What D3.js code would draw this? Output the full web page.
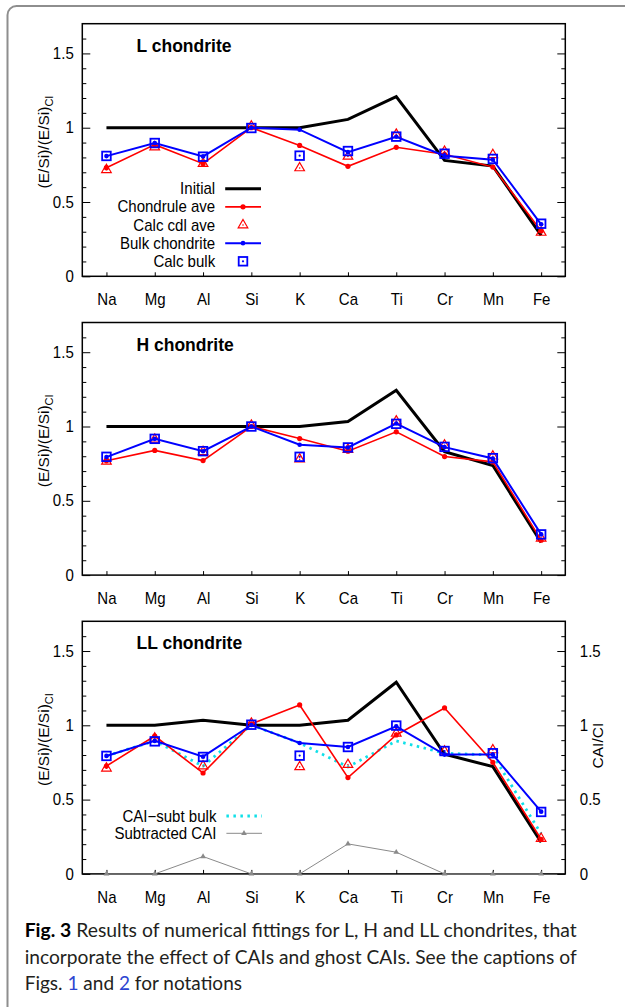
<!DOCTYPE html>
<html>
<head>
<meta charset="utf-8">
<script src="https://cdn.jsdelivr.net/npm/d3@7"></script>
<style>
  body { margin: 0; background: #fff; }
  svg { display: block; }
  .chart text { font-family: "Liberation Sans", Arial, Helvetica, sans-serif; fill: #000; }
  .caption text { font-family: Lato, "Open Sans", sans-serif; }
</style>
</head>
<body>
<svg id="fig" width="625" height="1007"></svg>
<script>
// Element order along the x axis
const elements = ["Na", "Mg", "Al", "Si", "K", "Ca", "Ti", "Cr", "Mn", "Fe"];
const yMajorTicks = [0, 0.5, 1, 1.5];
const yMinorTicks = [0.1, 0.2, 0.3, 0.4, 0.6, 0.7, 0.8, 0.9, 1.1, 1.2, 1.3, 1.4, 1.6];

// L chondrite: (E/Si)/(E/Si)_CI
const lInitial       = [1.0, 1.0, 1.0, 1.0, 1.0, 1.056, 1.209, 0.780, 0.742, 0.275];
const lChondruleAve  = [0.731, 0.886, 0.758, 1.0, 0.881, 0.740, 0.868, 0.821, 0.735, 0.305];
const lCalcCdlAve    = [0.717, 0.870, 0.758, 1.010, 0.729, 0.807, 0.955, 0.840, 0.818, 0.295];
const lBulk          = [0.809, 0.897, 0.807, 1.0, 0.987, 0.836, 0.939, 0.812, 0.785, 0.350];
const lCalcBulk      = [0.810, 0.897, 0.805, 0.998, 0.812, 0.843, 0.940, 0.825, 0.790, 0.354];

// H chondrite
const hInitial       = [1.0, 1.0, 1.0, 1.0, 1.0, 1.034, 1.244, 0.830, 0.738, 0.220];
const hChondruleAve  = [0.769, 0.839, 0.771, 1.0, 0.919, 0.834, 0.964, 0.798, 0.762, 0.235];
const hCalcCdlAve    = [0.765, 0.913, 0.830, 1.007, 0.780, 0.845, 1.036, 0.874, 0.800, 0.247];
const hBulk          = [0.794, 0.917, 0.834, 1.0, 0.877, 0.859, 1.020, 0.861, 0.785, 0.274];
const hCalcBulk      = [0.796, 0.917, 0.834, 1.0, 0.796, 0.859, 1.018, 0.863, 0.787, 0.274];

// LL chondrite
const llInitial      = [1.0, 1.0, 1.034, 1.0, 1.0, 1.034, 1.290, 0.805, 0.722, 0.213];
const llChondruleAve = [0.726, 0.928, 0.679, 1.009, 1.137, 0.648, 0.935, 1.117, 0.751, 0.233];
const llCalcCdlAve   = [0.711, 0.913, 0.726, 1.013, 0.720, 0.735, 0.946, 0.825, 0.834, 0.238];
const llBulk         = [0.794, 0.895, 0.789, 1.002, 0.881, 0.854, 0.993, 0.803, 0.803, 0.419];
const llCalcBulk     = [0.794, 0.892, 0.787, 1.004, 0.796, 0.854, 0.998, 0.827, 0.812, 0.417];
const llCaiSubtBulk  = [0.794, 0.895, 0.725, 1.002, 0.881, 0.720, 0.895, 0.812, 0.800, 0.270];
// CAI/CI of the subtracted CAI component (right axis)
const llSubtractedCai = [0, 0, 0.117, 0, 0, 0.202, 0.146, 0, 0, 0];

const mainLegend = ["Initial", "Chondrule ave", "Calc cdl ave", "Bulk chondrite", "Calc bulk"];
const caiLegend = ["CAI\u2212subt bulk", "Subtracted CAI"];

const panels = [
  { title: "L chondrite", top: 23.7, initial: lInitial, cdl: lChondruleAve, calcCdl: lCalcCdlAve,
    bulk: lBulk, calcBulk: lCalcBulk, legend: "main" },
  { title: "H chondrite", top: 322.5, initial: hInitial, cdl: hChondruleAve, calcCdl: hCalcCdlAve,
    bulk: hBulk, calcBulk: hCalcBulk },
  { title: "LL chondrite", top: 621.3, initial: llInitial, cdl: llChondruleAve, calcCdl: llCalcCdlAve,
    bulk: llBulk, calcBulk: llCalcBulk, subtBulk: llCaiSubtBulk, cai: llSubtractedCai,
    legend: "cai", rightAxis: "CAI/CI" }
];

const RED = "#ff0000", BLUE = "#0000ff", CYAN = "#10e0e8", GREY = "#8a8a8a";
const FONT = 16, SQUEEZE = "scale(0.94,1)";   // slightly narrow sans labels
const svg = d3.select("#fig");

// outer frame of the figure box
svg.append("rect")
  .attr("x", 7.5).attr("y", 6).attr("width", 700).attr("height", 1100).attr("rx", 9)
  .attr("fill", "none").attr("stroke", "#8e8e8e").attr("stroke-width", 2);

const x = d3.scalePoint().domain(elements).range([82.3, 565.3]).padding(0.5);
const plotH = 252.6;

const triangle = d3.symbol().type(d3.symbolTriangle).size(40);
const smallTri = d3.symbol().type(d3.symbolTriangle).size(14);

function drawTriangle(g, cx, cy) {
  g.append("path").attr("d", triangle()).attr("transform", `translate(${cx},${cy})`)
    .attr("fill", "none").attr("stroke", RED).attr("stroke-width", 1.2);
  g.append("circle").attr("cx", cx).attr("cy", cy).attr("r", 0.8).attr("fill", RED);
}
function drawSquare(g, cx, cy) {
  const s = 8.6;
  g.append("rect").attr("x", cx - s / 2).attr("y", cy - s / 2).attr("width", s).attr("height", s)
    .attr("fill", "none").attr("stroke", BLUE).attr("stroke-width", 1.8);
  g.append("circle").attr("cx", cx).attr("cy", cy).attr("r", 1.1).attr("fill", BLUE);
}
function label(g, tx, ty, text, anchor) {
  return g.append("text").attr("transform", `translate(${tx},${ty}) ${SQUEEZE}`)
    .attr("dy", "0.35em").attr("text-anchor", anchor).attr("font-size", FONT).text(text);
}

panels.forEach(p => {
  const y = d3.scaleLinear().domain([0, 1.7]).range([p.top + plotH, p.top]);
  const g = svg.append("g").attr("class", "chart");
  const pts = arr => arr.map((v, i) => [x(elements[i]), y(v)]);
  const line = d3.line();

  // axes with inward ticks
  g.append("g").attr("transform", `translate(${x.range()[0]},0)`)
    .call(d3.axisLeft(y).tickValues(yMajorTicks).tickSize(-8).tickPadding(9.1)
      .tickFormat(d3.format("")));
  g.append("g").attr("transform", `translate(${x.range()[0]},0)`)
    .call(d3.axisLeft(y).tickValues(yMinorTicks).tickSize(-4).tickFormat(""));
  g.append("g").attr("transform", `translate(${x.range()[1]},0)`)
    .call(d3.axisRight(y).tickValues(yMajorTicks).tickSize(-8).tickPadding(15.4)
      .tickFormat(p.rightAxis ? d3.format("") : ""));
  g.append("g").attr("transform", `translate(${x.range()[1]},0)`)
    .call(d3.axisRight(y).tickValues(yMinorTicks).tickSize(-4).tickFormat(""));
  g.append("g").attr("transform", `translate(0,${p.top + plotH})`)
    .call(d3.axisBottom(x).tickSize(-4).tickPadding(17.5));
  g.selectAll(".domain").remove();
  g.selectAll(".tick line").attr("stroke", "#000").attr("stroke-width", 1);
  g.selectAll(".tick text").attr("font-size", FONT).attr("fill", "#000")
    .attr("transform", SQUEEZE)
    .attr("font-family", "'Liberation Sans', Arial, sans-serif");

  // plot frame
  g.append("rect").attr("x", x.range()[0]).attr("y", p.top)
    .attr("width", x.range()[1] - x.range()[0]).attr("height", plotH)
    .attr("fill", "none").attr("stroke", "#000").attr("stroke-width", 1.5);

  // y axis titles
  const ty = p.top + plotH / 2 - 8;
  const yt = g.append("text").attr("transform", `translate(49,${ty}) rotate(-90)`)
    .attr("text-anchor", "middle").attr("font-size", 15.5);
  yt.append("tspan").text("(E/Si)/(E/Si)");
  yt.append("tspan").attr("font-size", 11).attr("dy", 4).text("CI");
  if (p.rightAxis) {
    g.append("text").attr("transform", `translate(603.3,${p.top + plotH / 2 - 2}) rotate(-90)`)
      .attr("text-anchor", "middle").attr("font-size", 15.5).text(p.rightAxis);
  }

  // panel title
  g.append("text").attr("x", 136.5).attr("y", p.top + 28).attr("font-size", 17.5)
    .attr("font-weight", "bold").text(p.title);

  // series
  if (p.cai) {
    g.append("path").attr("d", line(pts(p.cai))).attr("fill", "none")
      .attr("stroke", GREY).attr("stroke-width", 1);
    pts(p.cai).forEach(([cx, cy]) => g.append("path").attr("d", smallTri())
      .attr("transform", `translate(${cx},${cy})`).attr("fill", GREY));
  }
  if (p.subtBulk) {
    g.append("path").attr("d", line(pts(p.subtBulk))).attr("fill", "none")
      .attr("stroke", CYAN).attr("stroke-width", 2.8).attr("stroke-dasharray", "2.5,4.5");
  }
  g.append("path").attr("d", line(pts(p.initial))).attr("fill", "none")
    .attr("stroke", "#000").attr("stroke-width", 3).attr("stroke-linejoin", "miter");
  g.append("path").attr("d", line(pts(p.cdl))).attr("fill", "none")
    .attr("stroke", RED).attr("stroke-width", 1.6);
  pts(p.cdl).forEach(([cx, cy]) => g.append("circle").attr("cx", cx).attr("cy", cy)
    .attr("r", 2.6).attr("fill", RED));
  pts(p.calcCdl).forEach(([cx, cy]) => drawTriangle(g, cx, cy));
  g.append("path").attr("d", line(pts(p.bulk))).attr("fill", "none")
    .attr("stroke", BLUE).attr("stroke-width", 2);
  pts(p.bulk).forEach(([cx, cy]) => g.append("circle").attr("cx", cx).attr("cy", cy)
    .attr("r", 2.3).attr("fill", BLUE));
  pts(p.calcBulk).forEach(([cx, cy]) => drawSquare(g, cx, cy));

  // legends
  if (p.legend === "main") {
    mainLegend.forEach((name, i) => {
      const ly = p.top + 165 + i * 18.15;
      label(g, 215.2, ly, name, "end");
      if (i === 0) {
        g.append("line").attr("x1", 225.2).attr("x2", 261).attr("y1", ly).attr("y2", ly)
          .attr("stroke", "#000").attr("stroke-width", 3);
      } else if (i === 1 || i === 3) {
        const c = i === 1 ? RED : BLUE;
        g.append("line").attr("x1", 225.2).attr("x2", 261).attr("y1", ly).attr("y2", ly)
          .attr("stroke", c).attr("stroke-width", i === 1 ? 1.6 : 2);
        g.append("circle").attr("cx", 243).attr("cy", ly).attr("r", i === 1 ? 2.6 : 2.3).attr("fill", c);
      } else if (i === 2) {
        drawTriangle(g, 243, ly);
      } else {
        drawSquare(g, 243, ly);
      }
    });
  } else if (p.legend === "cai") {
    caiLegend.forEach((name, i) => {
      const ly = p.top + 194.7 + i * 17.3;
      label(g, 216.4, ly, name, "end");
      if (i === 0) {
        g.append("line").attr("x1", 226.4).attr("x2", 262).attr("y1", ly).attr("y2", ly)
          .attr("stroke", CYAN).attr("stroke-width", 2.8).attr("stroke-dasharray", "2.5,4.5");
      } else {
        g.append("line").attr("x1", 226.4).attr("x2", 262).attr("y1", ly).attr("y2", ly)
          .attr("stroke", GREY).attr("stroke-width", 1);
        g.append("path").attr("d", smallTri()).attr("transform", `translate(244,${ly})`).attr("fill", GREY);
      }
    });
  }
});

// figure caption
const cap = svg.append("g").attr("class", "caption");
const capColor = "#231f20", linkColor = "#2d45d2";
const l1 = cap.append("text").attr("x", 24.7).attr("y", 937).attr("font-size", 18.5)
  .attr("fill", capColor).attr("textLength", 552).attr("lengthAdjust", "spacingAndGlyphs");
l1.append("tspan").attr("font-weight", "bold").attr("fill", "#000").text("Fig. 3");
l1.append("tspan").text(" Results of numerical fittings for L, H and LL chondrites, that");
cap.append("text").attr("x", 24.7).attr("y", 963.5).attr("font-size", 18.5)
  .attr("fill", capColor).attr("textLength", 552).attr("lengthAdjust", "spacingAndGlyphs")
  .text("incorporate the effect of CAIs and ghost CAIs. See the captions of");
const l3 = cap.append("text").attr("x", 24.7).attr("y", 990).attr("font-size", 18.5)
  .attr("fill", capColor).attr("textLength", 217.3).attr("lengthAdjust", "spacingAndGlyphs");
l3.append("tspan").text("Figs. ");
l3.append("tspan").attr("fill", linkColor).text("1");
l3.append("tspan").text(" and ");
l3.append("tspan").attr("fill", linkColor).text("2");
l3.append("tspan").text(" for notations");
</script>
</body>
</html>
